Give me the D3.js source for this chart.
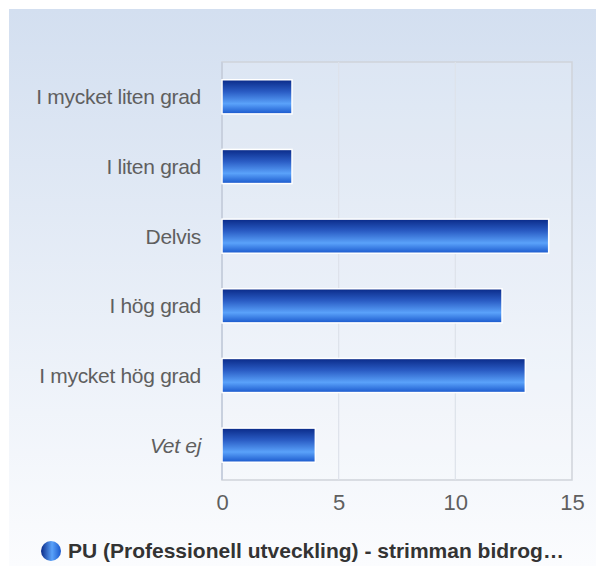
<!doctype html>
<html lang="en">
<head>
  <meta charset="utf-8">
  <title>bars</title>
  <style>
    body { margin: 0; background: #fff; }
    .axis text { font-family: Arial, "Liberation Sans", sans-serif; }
  </style>
</head>
<body>
  <div class="chart"></div>
  <script src="https://d3js.org/d3.v7.min.js"></script>
  <script>
    'use strict';

    const categories = ['I mycket liten grad', 'I liten grad', 'Delvis', 'I hög grad', 'I mycket hög grad', 'Vet ej'];
    const values = [3, 3, 14, 12, 13, 4];
    const xTicks = [0, 5, 10, 15];
    const seriesName = 'PU (Professionell utveckling) - strimman bidrog…';

    const W = 596, H = 566;
    const plot = {left: 222, right: 572, top: 62, bottom: 480};

    const svg = d3.select('.chart').append('svg')
      .attr('width', W)
      .attr('height', H);

    const defs = svg.append('defs');
    const bg = defs.append('linearGradient').attr('id', 'bg')
      .attr('x1', 0).attr('y1', 0).attr('x2', 0).attr('y2', 1);
    bg.append('stop').attr('offset', '0%').attr('stop-color', '#d3dff0');
    bg.append('stop').attr('offset', '100%').attr('stop-color', '#fbfcfe');

    const barGrad = defs.append('linearGradient').attr('id', 'barGrad')
      .attr('x1', 0).attr('y1', 0).attr('x2', 0).attr('y2', 1);
    barGrad.append('stop').attr('offset', '0%').attr('stop-color', '#0a2a88');
    barGrad.append('stop').attr('offset', '35%').attr('stop-color', '#2a5cc4');
    barGrad.append('stop').attr('offset', '70%').attr('stop-color', '#5aa2fa');
    barGrad.append('stop').attr('offset', '100%').attr('stop-color', '#1a58cc');

    const dotGrad = defs.append('linearGradient').attr('id', 'dotGrad')
      .attr('x1', 0).attr('y1', 0).attr('x2', 1).attr('y2', 0);
    dotGrad.append('stop').attr('offset', '0%').attr('stop-color', '#0a2a88');
    dotGrad.append('stop').attr('offset', '55%').attr('stop-color', '#5aa2fa');
    dotGrad.append('stop').attr('offset', '100%').attr('stop-color', '#1a58cc');

    svg.append('rect')
      .attr('x', 9).attr('y', 9)
      .attr('width', W - 9).attr('height', H - 9)
      .attr('fill', 'url(#bg)');

    const xScale = d3.scaleLinear()
      .domain([0, 15])
      .range([plot.left, plot.right]);

    const yScale = d3.scaleBand()
      .domain(categories)
      .range([plot.top, plot.bottom])
      .paddingInner(0.51)
      .paddingOuter(0.255);

    // plot area
    svg.append('rect')
      .attr('x', plot.left).attr('y', plot.top)
      .attr('width', plot.right - plot.left)
      .attr('height', plot.bottom - plot.top)
      .attr('fill', '#ffffff').attr('fill-opacity', 0.15)
      .attr('stroke', '#cfd3da').attr('stroke-width', 1.5);

    // grid
    svg.append('g')
      .selectAll('line')
      .data(xTicks.slice(1, -1))
      .join('line')
      .attr('x1', d => xScale(d)).attr('x2', d => xScale(d))
      .attr('y1', plot.top).attr('y2', plot.bottom)
      .attr('stroke', '#dde2ea').attr('stroke-width', 1.2);

    // left axis line
    svg.append('line')
      .attr('x1', plot.left).attr('x2', plot.left)
      .attr('y1', plot.top).attr('y2', plot.bottom)
      .attr('stroke', '#c8d0de').attr('stroke-width', 2);

    // bars
    svg.append('g')
      .selectAll('rect')
      .data(values)
      .join('rect')
      .attr('x', xScale(0))
      .attr('y', (d, i) => yScale(categories[i]))
      .attr('width', d => xScale(d) - xScale(0))
      .attr('height', yScale.bandwidth())
      .attr('fill', 'url(#barGrad)')
      .attr('stroke', '#ffffff')
      .attr('stroke-width', 1.5);

    // y labels
    svg.append('g')
      .selectAll('text')
      .data(categories)
      .join('text')
      .attr('x', 201)
      .attr('y', d => yScale(d) + yScale.bandwidth() / 2)
      .attr('dy', '0.36em')
      .attr('text-anchor', 'end')
      .attr('font-family', 'Arial, "Liberation Sans", sans-serif')
      .attr('font-size', 21)
      .attr('letter-spacing', -0.3)
      .attr('font-style', d => d === 'Vet ej' ? 'italic' : 'normal')
      .attr('fill', '#5f5f5f')
      .text(d => d);

    // x axis
    const xAxis = svg.append('g')
      .attr('class', 'axis')
      .attr('transform', `translate(0,${plot.bottom})`)
      .call(d3.axisBottom(xScale).tickValues(xTicks).tickSize(0).tickPadding(14));
    xAxis.select('.domain').remove();
    xAxis.selectAll('text')
      .attr('font-size', 22)
      .attr('fill', '#5f5f5f');

    // legend
    svg.append('circle')
      .attr('cx', 51).attr('cy', 551).attr('r', 10)
      .attr('fill', 'url(#dotGrad)');
    svg.append('text')
      .attr('x', 68).attr('y', 558)
      .attr('font-family', 'Arial, "Liberation Sans", sans-serif')
      .attr('font-size', 21)
      .attr('font-weight', 'bold')
      .attr('fill', '#333')
      .text(seriesName);
  </script>
</body>
</html>
